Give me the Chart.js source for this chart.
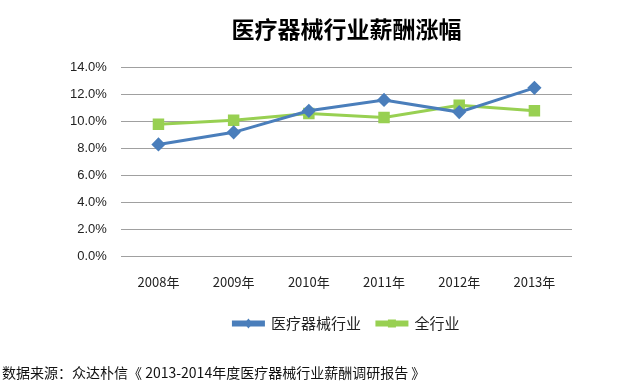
<!DOCTYPE html>
<html>
<head>
<meta charset="utf-8">
<script src="https://cdn.jsdelivr.net/npm/chart.js@4/dist/chart.umd.min.js"></script>
<style>
  body { margin: 0; background: #fff; }
  #wrap { position: relative; width: 619px; height: 386px; }
  #source {
    position: absolute; left: 2px; top: 362px;
    font: 14px "Noto Sans CJK SC", sans-serif; color: #111;
  }
</style>
</head>
<body>
<div id="wrap">
  <canvas id="chart" width="619" height="386"></canvas>
  <div id="source">数据来源：众达朴信《 2013-2014年度医疗器械行业薪酬调研报告 》</div>
</div>
<script>
const years = ['2008年', '2009年', '2010年', '2011年', '2012年', '2013年'];
const medical = [8.3, 9.2, 10.8, 11.6, 10.7, 12.5];
const allIndustry = [9.8, 10.1, 10.6, 10.3, 11.2, 10.8];

// draw the series marker on top of each legend line
const legendMarkers = {
  id: 'legendMarkers',
  afterDraw(chart) {
    const legend = chart.legend;
    if (!legend || !legend.legendHitBoxes) return;
    const c = chart.ctx;
    const boxWidth = legend.options.labels.boxWidth;
    legend.legendHitBoxes.forEach((hb, i) => {
      const ds = chart.data.datasets[i];
      const cx = hb.left + boxWidth / 2;
      const cy = hb.top + hb.height / 2;
      c.save();
      c.fillStyle = ds.backgroundColor;
      c.beginPath();
      if (ds.pointStyle === 'rectRot') {
        c.moveTo(cx, cy - 5);
        c.lineTo(cx + 4, cy);
        c.lineTo(cx, cy + 5);
        c.lineTo(cx - 4, cy);
        c.closePath();
      } else {
        c.rect(cx - 4, cy - 4, 8, 8);
      }
      c.fill();
      c.restore();
    });
  }
};

const ctx = document.getElementById('chart');
const chart = new Chart(ctx, {
  type: 'line',
  data: {
    labels: years,
    datasets: [
      {
        label: '医疗器械行业',
        data: medical,
        borderColor: '#4a7ebb',
        backgroundColor: '#4a7ebb',
        borderWidth: 3,
        pointStyle: 'rectRot',
        pointRadius: 5,
        pointHoverRadius: 5,
        tension: 0
      },
      {
        label: '全行业',
        data: allIndustry,
        borderColor: '#98d052',
        backgroundColor: '#98d052',
        borderWidth: 3,
        pointStyle: 'rect',
        pointRadius: 6,
        pointHoverRadius: 6,
        tension: 0
      }
    ]
  },
  options: {
    responsive: false,
    animation: false,
    layout: { padding: { left: 56, right: 47, top: 4, bottom: 45 } },
    plugins: {
      title: {
        display: true,
        fullSize: false,
        text: '医疗器械行业薪酬涨幅',
        color: '#000',
        font: { family: '"Noto Sans CJK SC"', size: 23, weight: 'bold' },
        padding: { top: 11, bottom: 25 }
      },
      legend: {
        position: 'bottom',
        fullSize: false,
        labels: {
          boxWidth: 30,
          boxHeight: 3,
          color: '#222',
          font: { family: '"Noto Sans CJK SC"', size: 15 },
          padding: 16
        }
      },
      tooltip: { enabled: false }
    },
    scales: {
      x: {
        offset: true,
        grid: { display: false },
        border: { display: false },
        ticks: { color: '#222', font: { family: '"Noto Sans CJK SC"', size: 13 }, padding: 10 }
      },
      y: {
        min: 0,
        max: 14,
        ticks: {
          stepSize: 2,
          color: '#222',
          font: { family: 'Liberation Sans', size: 13 },
          padding: 14,
          callback: v => v.toFixed(1) + '%'
        },
        grid: { color: '#a0a0a0', drawTicks: false },
        border: { display: false }
      }
    }
  },
  plugins: [legendMarkers]
});
</script>
</body>
</html>
